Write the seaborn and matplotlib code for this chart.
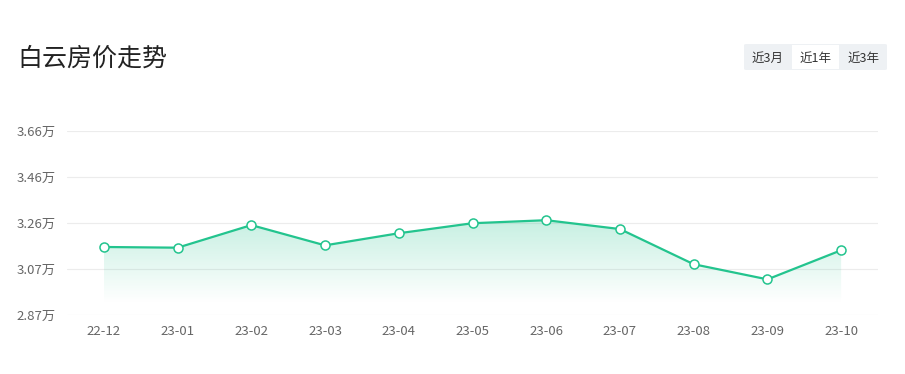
import numpy as np
import pandas as pd
import matplotlib
matplotlib.use("Agg")
import matplotlib.pyplot as plt
import seaborn as sns
from matplotlib.patches import Polygon, FancyBboxPatch, Rectangle

months = ["22-12", "23-01", "23-02", "23-03", "23-04", "23-05",
          "23-06", "23-07", "23-08", "23-09", "23-10"]
prices = [3.162, 3.159, 3.256, 3.169, 3.221, 3.264, 3.277, 3.239, 3.088, 3.023, 3.148]
ytick_labels = ["2.87万", "3.07万", "3.26万", "3.46万", "3.66万"]
title = "白云房价走势"
buttons = ["近3月", "近1年", "近3年"]

sns.set_theme(style="white")
plt.rcParams['font.family'] = ['Noto Sans CJK SC', 'DejaVu Sans']

W, H = 905, 374
fig = plt.figure(figsize=(W / 100, H / 100), dpi=100)
ax = fig.add_axes([67 / W, 1 - 315 / H, (878 - 67) / W, (315 - 131) / H])

df = pd.DataFrame({"x": np.arange(len(months)), "price": prices})
green = "#23c48e"

ymin, ymax = 2.87, 3.66

# gradient area fill
xs = df["x"].values
ys = df["price"].values
grad = np.linspace(0, 1, 256).reshape(-1, 1)
cmap = matplotlib.colors.LinearSegmentedColormap.from_list(
    "g", [(0.137, 0.768, 0.557, 0.0), (0.137, 0.768, 0.557, 0.26)])
fill_bottom = 2.92
img = ax.imshow(grad, extent=[xs[0], xs[-1], fill_bottom, max(ys)], origin="lower",
                aspect="auto", cmap=cmap, zorder=1, interpolation="bilinear")
poly = Polygon(list(zip(xs, ys)) + [(xs[-1], fill_bottom), (xs[0], fill_bottom)],
               closed=True, facecolor="none", edgecolor="none", transform=ax.transData)
ax.add_patch(poly)
img.set_clip_path(poly)

sns.lineplot(data=df, x="x", y="price", ax=ax, color=green, linewidth=1.6,
             marker="o", markersize=6.5, markerfacecolor="white",
             markeredgecolor=green, markeredgewidth=1.1, zorder=3)

ax.set_ylim(ymin, ymax)
ax.set_xlim(-0.5, len(months) - 0.5)
ticks = np.linspace(ymin, ymax, 5)
ax.set_yticks(ticks)
ax.set_yticklabels(ytick_labels)
ax.set_xticks(xs)
ax.set_xticklabels(months)
ax.grid(axis="y", color="#ececec", linewidth=0.8)
ax.set_axisbelow(True)
for s in ax.spines.values():
    s.set_visible(False)
ax.tick_params(axis="both", length=0, labelsize=9.5, labelcolor="#666666")
ax.tick_params(axis="y", pad=8)
ax.tick_params(axis="x", pad=7)
ax.set_xlabel("")
ax.set_ylabel("")

fig.text(17 / W, 1 - 59 / H, title, fontsize=18, color="#222222", va="center", ha="left")

# buttons
bx0, by0, bw, bh = 744, 44, 143, 26
fig.patches.append(FancyBboxPatch((bx0 / W, 1 - (by0 + bh) / H), bw / W, bh / H,
                                  boxstyle="round,pad=0,rounding_size=0.003",
                                  transform=fig.transFigure, facecolor="#eef1f4",
                                  edgecolor="none"))
fig.patches.append(Rectangle((792 / W, 1 - 69 / H), 47 / W, 24 / H,
                             transform=fig.transFigure, facecolor="white", edgecolor="none"))
for cx, t in zip([768, 816, 864], buttons):
    fig.text(cx / W, 1 - 58 / H, t, fontsize=9, color="#333333", ha="center", va="center")

fig.savefig("out.png", dpi=100)
